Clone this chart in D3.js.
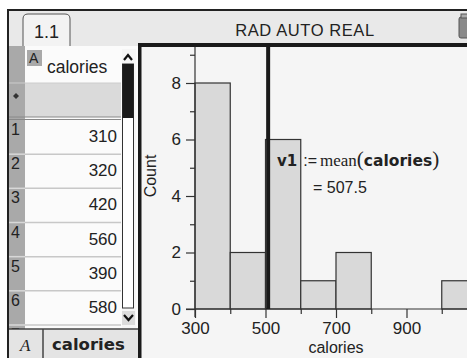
<!DOCTYPE html>
<html><head><meta charset="utf-8">
<script src="https://cdn.jsdelivr.net/npm/d3@7"></script>
<style>
html,body{margin:0;padding:0;background:#fff;}
svg{display:block;}
text{font-family:"Liberation Sans",Arial,sans-serif;fill:#222;}
</style></head><body>
<script>
// ---- data ----
const binStarts = [300, 400, 500, 600, 700, 800, 900, 1000];
const binCounts = [8, 2, 6, 1, 2, 0, 0, 1];
const binWidth = 100;
const rowIndex = [1, 2, 3, 4, 5, 6];
const rowValues = [310, 320, 420, 560, 390, 580];
const meanValue = 507.5;
const yTickValues = [0, 1, 2, 3, 4, 5, 6, 7, 8, 9];
const yTickLabels = [0, 2, 4, 6, 8];
const xTickValues = [300, 400, 500, 600, 700, 800, 900, 1000];
const xTickLabels = [300, 500, 700, 900];
const columnName = "calories";
const statusText = "RAD AUTO REAL";

const W = 467, H = 358;
const svg = d3.select("body").append("svg").attr("width", W).attr("height", H);

// ---- frame / top bar ----
svg.append("rect").attr("x", 8).attr("y", 10).attr("width", W - 8).attr("height", 36).attr("fill", "#e9e9e9");
svg.append("line").attr("x1", 8).attr("x2", W).attr("y1", 10).attr("y2", 10).attr("stroke", "#222").attr("stroke-width", 2);
svg.append("line").attr("x1", 8).attr("x2", 8).attr("y1", 9).attr("y2", H).attr("stroke", "#222").attr("stroke-width", 2);
// tab
svg.append("path").attr("d", "M23,46 L23,19 Q23,14 28,14 L65,14 Q70,14 70,19 L70,46")
  .attr("fill", "#f3f3f3").attr("stroke", "#555").attr("stroke-width", 1);
svg.append("text").attr("x", 46.5).attr("y", 38).attr("text-anchor", "middle").attr("font-size", 18).text("1.1");
svg.append("text").attr("x", 305).attr("y", 36).attr("text-anchor", "middle").attr("font-size", 16.5).attr("letter-spacing", 0.6).text(statusText);
// icon
svg.append("rect").attr("x", 459).attr("y", 17).attr("width", 12).attr("height", 21).attr("rx", 2).attr("fill", "#8a8a8a").attr("stroke", "#555");
svg.append("rect").attr("x", 461).attr("y", 14).attr("width", 8).attr("height", 4).attr("fill", "#aaa").attr("stroke", "#555");

// ---- spreadsheet ----
const sx0 = 9, sx1 = 139;
svg.append("rect").attr("x", sx0).attr("y", 46).attr("width", sx1 - sx0).attr("height", 283).attr("fill", "#fbfbfb");
svg.append("rect").attr("x", sx0).attr("y", 46).attr("width", 16).attr("height", 283).attr("fill", "#a9a9a9");
svg.append("rect").attr("x", 25).attr("y", 83).attr("width", 96).attr("height", 34).attr("fill", "#dadada");
svg.append("path").attr("d", "M16,93 L19,96 L16,99 L13,96 Z").attr("fill", "#333");
svg.append("line").attr("x1", 9).attr("x2", 121).attr("y1", 83).attr("y2", 83).attr("stroke", "#ccc");
svg.append("line").attr("x1", 9).attr("x2", 121).attr("y1", 117).attr("y2", 117).attr("stroke", "#888");
svg.append("line").attr("x1", 9).attr("x2", 121).attr("y1", 119.5).attr("y2", 119.5).attr("stroke", "#888");
svg.append("rect").attr("x", 27).attr("y", 50).attr("width", 15).attr("height", 16).attr("fill", "#a9a9a9");
svg.append("text").attr("x", 29).attr("y", 63).attr("font-size", 14).text("A");
svg.append("text").attr("x", 47).attr("y", 73).attr("font-size", 17.5).text(columnName);

const rowY = d3.scaleLinear().domain([1, 7]).range([120, 325]);
const rows = svg.append("g");
rowIndex.forEach((r, i) => {
  const top = rowY(r), bot = rowY(r + 1);
  rows.append("line").attr("x1", 25).attr("x2", 121).attr("y1", bot).attr("y2", bot).attr("stroke", "#c8c8c8").attr("stroke-width", 1.5);
  rows.append("line").attr("x1", 9).attr("x2", 25).attr("y1", bot).attr("y2", bot).attr("stroke", "#d8d8d8").attr("stroke-width", 1.5);
  rows.append("text").attr("x", 11).attr("y", top + 15).attr("font-size", 16).text(r);
  rows.append("text").attr("x", 117).attr("y", top + 22).attr("text-anchor", "end").attr("font-size", 17).text(rowValues[i]);
});
rows.append("text").attr("x", 11).attr("y", rowY(7) + 15).attr("font-size", 16).text("7");

// scrollbar
svg.append("rect").attr("x", 122).attr("y", 49).attr("width", 14).attr("height", 280).attr("fill", "#f6f6f6");
svg.append("rect").attr("x", 122.5).attr("y", 64).attr("width", 11).attr("height", 244).attr("fill", "#fff").attr("stroke", "#333");
svg.append("rect").attr("x", 122.5).attr("y", 64).attr("width", 11).attr("height", 54).attr("fill", "#1a1a1a");
svg.append("path").attr("d", "M124,60 L128,55 L132,60").attr("fill", "none").attr("stroke", "#111").attr("stroke-width", 2.2);
svg.append("rect").attr("x", 122).attr("y", 311).attr("width", 13).attr("height", 14).attr("fill", "#dcdcdc");
svg.append("path").attr("d", "M124,315 L128.5,320 L133,315").attr("fill", "none").attr("stroke", "#111").attr("stroke-width", 2.2);

// bottom bar
svg.append("rect").attr("x", 9).attr("y", 329).attr("width", 130).attr("height", 29).attr("fill", "#e4e4e4");
svg.append("line").attr("x1", 9).attr("x2", 139).attr("y1", 329).attr("y2", 329).attr("stroke", "#444").attr("stroke-width", 1.5);
svg.append("line").attr("x1", 43).attr("x2", 43).attr("y1", 329).attr("y2", 358).attr("stroke", "#444").attr("stroke-width", 1.5);
svg.append("text").attr("x", 20).attr("y", 351).attr("font-size", 17).attr("font-style", "italic")
  .style("font-family", "'Liberation Serif','DejaVu Serif',serif").text("A");
svg.append("text").attr("x", 52).attr("y", 350).attr("font-size", 16.5).attr("font-weight", "bold")
  .style("font-family", "'DejaVu Sans',sans-serif").text(columnName);

// ---- graph panel ----
svg.append("rect").attr("x", 141).attr("y", 46).attr("width", W - 141).attr("height", H - 46).attr("fill", "#f5f5f5");
svg.append("rect").attr("x", 138).attr("y", 43).attr("width", W - 138).attr("height", 4).attr("fill", "#1a1a1a");
svg.append("rect").attr("x", 138).attr("y", 43).attr("width", 3.5).attr("height", H - 43).attr("fill", "#1a1a1a");

const x = d3.scaleLinear().domain([300, 900]).range([195, 406.5]);
const y = d3.scaleLinear().domain([0, 8]).range([309, 83]);

const bars = binStarts.map((b, i) => ({ x0: b, x1: b + binWidth, n: binCounts[i] })).filter(d => d.n > 0);
svg.append("g").selectAll("rect").data(bars).join("rect")
  .attr("x", d => x(d.x0)).attr("y", d => y(d.n))
  .attr("width", d => x(d.x1) - x(d.x0)).attr("height", d => y(0) - y(d.n))
  .attr("fill", "#d9d9d9").attr("stroke", "#333").attr("stroke-width", 1.2);

// y axis
const yAxis = d3.axisLeft(y).tickValues(yTickValues).tickSize(9).tickPadding(5)
  .tickFormat(d => yTickLabels.includes(d) ? d : "");
const gy = svg.append("g").attr("transform", `translate(${x(300)},0)`).call(yAxis);
gy.select(".domain").remove();
gy.append("line").attr("x1", 0).attr("x2", 0).attr("y1", 47).attr("y2", y(0) + 8).attr("stroke", "#333").attr("stroke-width", 1.2);
gy.selectAll(".tick line").attr("stroke", "#333").attr("stroke-width", 1.2)
  .attr("x2", d => yTickLabels.includes(d) ? -9 : -5);
gy.selectAll(".tick text").attr("font-size", 17).attr("fill", "#333").style("font-family", "'Liberation Sans',Arial,sans-serif");

// x axis
const xAxis = d3.axisBottom(x).tickValues(xTickValues).tickSize(9).tickPadding(4)
  .tickFormat(d => xTickLabels.includes(d) ? d : "");
const gx = svg.append("g").attr("transform", `translate(0,${y(0)})`).call(xAxis);
gx.select(".domain").remove();
gx.append("line").attr("x1", x(300) - 9).attr("x2", W).attr("y1", 0).attr("y2", 0).attr("stroke", "#333").attr("stroke-width", 1.2);
gx.selectAll(".tick line").attr("stroke", "#333").attr("stroke-width", 1.2)
  .attr("y2", d => xTickLabels.includes(d) ? 9 : 5);
gx.selectAll(".tick text").attr("font-size", 17).attr("fill", "#333").style("font-family", "'Liberation Sans',Arial,sans-serif");

// axis titles
svg.append("text").attr("transform", `translate(156,176) rotate(-90)`).attr("text-anchor", "middle")
  .attr("font-size", 16).attr("fill", "#333").text("Count");
svg.append("text").attr("x", x(700)).attr("y", 353).attr("text-anchor", "middle").attr("font-size", 16).attr("fill", "#333").text(columnName);

// mean line
svg.append("line").attr("x1", x(meanValue)).attr("x2", x(meanValue)).attr("y1", 46).attr("y2", y(0))
  .attr("stroke", "#1a1a1a").attr("stroke-width", 4);

// annotation
const ann = svg.append("text").attr("x", 277).attr("y", 166).attr("font-size", 16);
ann.append("tspan").attr("font-weight", "bold").style("font-family", "'DejaVu Sans',sans-serif").attr("font-size", 15).text("v1");
ann.append("tspan").attr("dx", 6).text(":=");
ann.append("tspan").attr("dx", 3).style("font-family", "'Liberation Serif','DejaVu Serif',serif").attr("font-size", 17).text("mean");
ann.append("tspan").attr("font-size", 21).style("font-family", "'Liberation Serif',serif").text("(");
ann.append("tspan").attr("font-weight", "bold").style("font-family", "'DejaVu Sans',sans-serif").attr("font-size", 15.5).text(columnName);
ann.append("tspan").attr("font-size", 21).style("font-family", "'Liberation Serif',serif").text(")");
svg.append("text").attr("x", 313).attr("y", 193).attr("font-size", 16).text("= " + meanValue);
</script>
</body></html>
